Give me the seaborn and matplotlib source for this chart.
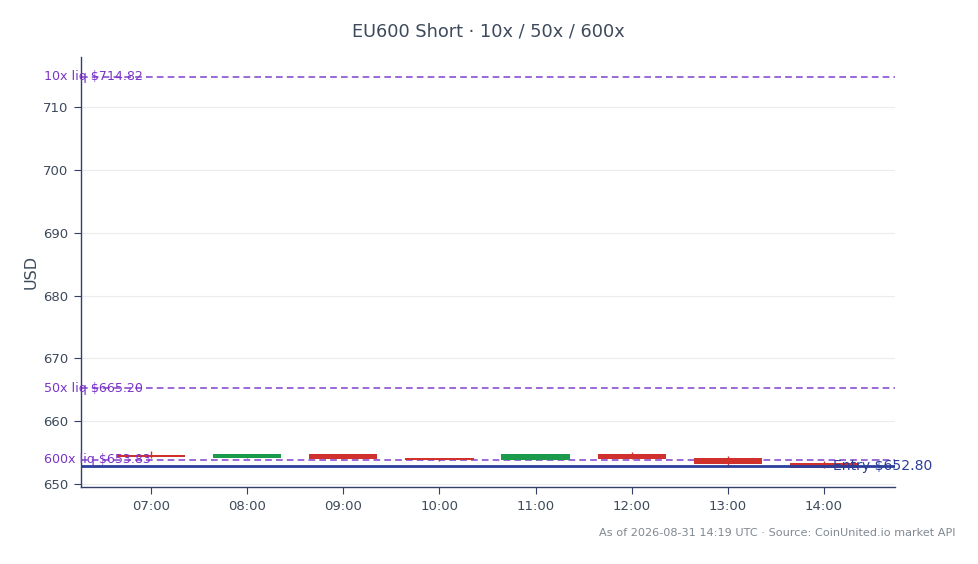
import matplotlib
matplotlib.use("Agg")
import matplotlib.pyplot as plt
import seaborn as sns
import numpy as np
import pandas as pd

# ---- data ----
hours = ["07:00", "08:00", "09:00", "10:00", "11:00", "12:00", "13:00", "14:00"]
opens = [654.62, 654.20, 654.78, 654.19, 653.82, 654.78, 654.09, 653.30]
closes = [654.25, 654.78, 653.98, 653.82, 654.73, 653.98, 653.18, 652.60]
highs = [655.30, 654.80, 654.80, 654.20, 654.75, 655.14, 654.50, 653.66]
lows = [654.20, 654.18, 653.96, 653.66, 653.80, 653.96, 652.75, 652.58]
liq_names = ["10x liq", "50x liq", "600x liq"]
liq_prices = [714.82, 665.20, 653.83]
entry_price = 652.80
y_ticks = [650, 660, 670, 680, 690, 700, 710]

df = pd.DataFrame({"hour": hours, "open": opens, "close": closes,
                   "high": highs, "low": lows})
df["x"] = np.arange(len(df))

sns.set_theme(style="white")
plt.rcParams["font.family"] = ["DejaVu Sans"]

text_col = "#3d4a5c"
spine_col = "#34406b"
red = "#d0312d"
green = "#1a9a4b"
purple = "#8a4fd0"
purple_txt = "#7a35c8"
blue = "#2b3f9a"

fig = plt.figure(figsize=(9.79, 5.64), dpi=100)
ax = fig.add_axes([0.0827, 0.1365, 0.8315, 0.7625])

# grid
for t in y_ticks:
    ax.axhline(t, color="#ececec", lw=0.8, zorder=0)

# candles
for _, r in df.iterrows():
    up = r["close"] >= r["open"]
    c = green if up else red
    ax.vlines(r["x"], r["low"], r["high"], color=c, lw=1.0, zorder=3)
    lo = min(r["open"], r["close"])
    h = abs(r["close"] - r["open"])
    ax.bar(r["x"], h, bottom=lo, width=0.71, color=c, zorder=3, linewidth=0)

# liquidation lines
for name, p in zip(liq_names, liq_prices):
    ax.axhline(p, color=purple, lw=1.2, ls=(0, (4, 2.5)), zorder=2)
    ax.text(-0.0455, p, f"{name} ${p:.2f}", transform=ax.get_yaxis_transform(),
            ha="left", va="center", fontsize=9.1, color=purple_txt, zorder=5,
            clip_on=False)

# entry line
ax.axhline(entry_price, color=blue, lw=2.0, zorder=4)
ax.text(0.924, entry_price, f"Entry ${entry_price:.2f}", transform=ax.get_yaxis_transform(),
        ha="left", va="center", fontsize=10.1, color=blue, zorder=6, clip_on=False)

ax.set_xlim(-0.73, 7.74)
ax.set_ylim(649.5, 718.0)
ax.set_xticks(df["x"])
ax.set_xticklabels(hours)
ax.set_yticks(y_ticks)
ax.tick_params(axis="both", which="major", length=5, width=0.8, color=spine_col,
               labelsize=9.5, labelcolor=text_col, direction="out", pad=4)
ax.tick_params(axis="both", bottom=True, left=True)
ax.set_ylabel("USD", fontsize=11.5, color=text_col, labelpad=3)
ax.set_xlabel("")
sns.despine(ax=ax)
for s in ["left", "bottom"]:
    ax.spines[s].set_color(spine_col)
    ax.spines[s].set_linewidth(1.0)

fig.text(0.4985, 0.945, "EU600 Short · 10x / 50x / 600x", ha="center", va="center",
         fontsize=12.8, color=text_col)
fig.text(0.9755, 0.055, "As of 2026-08-31 14:19 UTC · Source: CoinUnited.io market API",
         ha="right", va="center", fontsize=8.15, color="#808890")

fig.savefig("out.png", dpi=100)
